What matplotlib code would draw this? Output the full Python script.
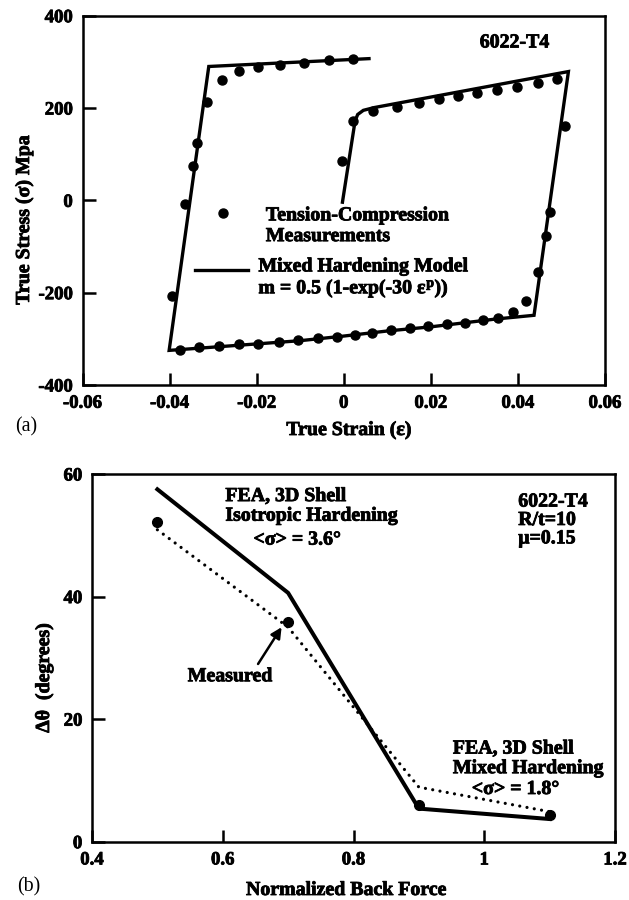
import matplotlib
matplotlib.use("Agg")
import matplotlib.pyplot as plt
import matplotlib.patheffects as pe
from matplotlib.text import Text

plt.rcParams['font.family'] = ['Liberation Serif', 'DejaVu Serif']
plt.rcParams['font.weight'] = 'bold'
plt.rcParams['axes.unicode_minus'] = False
plt.rcParams['mathtext.fontset'] = 'custom'
plt.rcParams['mathtext.rm'] = 'Liberation Serif:bold'
plt.rcParams['mathtext.it'] = 'Liberation Serif:bold'

# (a) cyclic stress-strain loop, 6022-T4
model_strain = [-0.0003, 0.0026, 0.0032, 0.0045, 0.0070, 0.0516, 0.0437, 0.035, 0.020,
                0.010, 0.0, -0.010, -0.020, -0.030, -0.0401, -0.0310, 0.0058]
model_stress = [-4, 172, 186, 195, 201, 279, -249, -257, -274,
                -283, -294, -304, -311, -318, -325, 290, 307]

meas_strain = [-0.0003, 0.0021, 0.0068, 0.0123, 0.0173, 0.0219, 0.0263, 0.0305, 0.0353,
               0.0397, 0.0445, 0.0490, 0.0508, 0.0474, 0.0465, 0.0447, 0.0419, 0.0388,
               0.0355, 0.0320, 0.0278, 0.0238, 0.0193, 0.0152, 0.0109, 0.0064, 0.0026,
               -0.0016, -0.0058, -0.0104, -0.0148, -0.0196, -0.0241, -0.0286, -0.0332,
               -0.0376, -0.0395, -0.0365, -0.0346, -0.0338, -0.0315, -0.0280, -0.0241,
               -0.0196, -0.0146, -0.0091, -0.0033, 0.0022]
meas_stress = [85, 172, 194, 203, 211, 219, 225, 232, 238,
               245, 254, 263, 161, -25, -78, -155, -218, -241,
               -254, -259, -265, -268, -273, -276, -281, -288, -292,
               -296, -299, -302, -307, -311, -312, -315, -318,
               -324, -208, -8, 74, 125, 212, 261, 280,
               289, 294, 298, 303, 307]

a_xticks = [-0.06, -0.04, -0.02, 0, 0.02, 0.04, 0.06]
a_xticklabels = ['-0.06', '-0.04', '-0.02', '0', '0.02', '0.04', '0.06']
a_yticks = [-400, -200, 0, 200, 400]
a_yticklabels = ['-400', '-200', '0', '200', '400']

# (b) springback angle vs normalized back force
back_force = [0.5, 0.7, 0.9, 1.1]
dtheta_measured = [52.2, 35.8, 6.0, 4.4]
dtheta_isotropic = [57.5, 40.6, 5.4, 3.7]
dtheta_mixed = [50.9, 35.0, 8.9, 4.9]

b_xticks = [0.4, 0.6, 0.8, 1.0, 1.2]
b_xticklabels = ['0.4', '0.6', '0.8', '1', '1.2']
b_yticks = [0, 20, 40, 60]
b_yticklabels = ['0', '20', '40', '60']

W, H = 629, 900
fig = plt.figure(figsize=(W / 100, H / 100), dpi=100)

ax1 = fig.add_axes([82.5 / W, 1 - 385 / H, (605 - 82.5) / W, (385 - 15.7) / H])
ax2 = fig.add_axes([92 / W, 1 - 841.7 / H, (615 - 92) / W, (841.7 - 474) / H])

FS = 13.5   # tick labels
TS = 14.3   # annotations and axis titles

for ax in (ax1, ax2):
    for s in ax.spines.values():
        s.set_linewidth(1.8)
    ax.tick_params(direction='in', length=9, width=1.8, labelsize=FS, pad=7,
                   top=False, right=False)

# ---- panel (a)
ax1.plot(model_strain, model_stress, color='black', lw=2.4, solid_joinstyle='miter')
ax1.plot(meas_strain, meas_stress, 'o', color='black', ms=6.5, mec='black')
ax1.set_xlim(-0.06, 0.06)
ax1.set_ylim(-400, 400)
ax1.set_xticks(a_xticks)
ax1.set_xticklabels(a_xticklabels)
ax1.set_yticks(a_yticks)
ax1.set_yticklabels(a_yticklabels)

ax1.text(0.0392, 342, '6022-T4', fontsize=TS, ha='center', va='center')
ax1.plot([-0.0277], [-27], 'o', color='black', ms=6.5)
ax1.text(-0.0179, -55, 'Tension-Compression\nMeasurements', fontsize=TS,
         ha='left', va='center', linespacing=1.05)
ax1.plot([-0.0342, -0.0219], [-151, -151], color='black', lw=2.4)
ax1.text(-0.0196, -169, 'Mixed Hardening Model\nm = 0.5 (1-exp(-30 $\\varepsilon^{p}$))',
         fontsize=TS, ha='left', va='center', linespacing=1.0)

fig.text(15 / W, 1 - 427 / H, '(a)', fontsize=TS, fontweight='normal', va='center')
fig.text(349 / W, 1 - 430 / H, 'True Strain (ε)', fontsize=TS, ha='center', va='center')
fig.text(24 / W, 1 - 220 / H, 'True Stress (σ) Mpa', fontsize=TS, ha='center',
         va='center', rotation=90)

# ---- panel (b)
ax2.plot(back_force, dtheta_isotropic, color='black', lw=2.9)
ax2.plot(back_force, dtheta_mixed, color='black', lw=2.3, linestyle=(0, (0.01, 2.3)),
         dash_capstyle='round')
ax2.plot(back_force, dtheta_measured, 'o', color='black', ms=7)
ax2.set_xlim(0.4, 1.2)
ax2.set_ylim(0, 60)
ax2.set_xticks(b_xticks)
ax2.set_xticklabels(b_xticklabels)
ax2.set_yticks(b_yticks)
ax2.set_yticklabels(b_yticklabels)

ax2.text(0.604, 56.4, 'FEA, 3D Shell', fontsize=TS, ha='left', va='center')
ax2.text(0.604, 53.2, 'Isotropic Hardening', fontsize=TS, ha='left', va='center')
ax2.text(0.647, 49.3, '<σ> = 3.6°', fontsize=TS, ha='left', va='center')

ax2.text(1.052, 55.5, '6022-T4', fontsize=TS, ha='left', va='center')
ax2.text(1.052, 52.5, 'R/t=10', fontsize=TS, ha='left', va='center')
ax2.text(1.052, 49.5, 'μ=0.15', fontsize=TS, ha='left', va='center')

ax2.text(0.952, 15.2, 'FEA, 3D Shell', fontsize=TS, ha='left', va='center')
ax2.text(0.952, 12.0, 'Mixed Hardening', fontsize=TS, ha='left', va='center')
ax2.text(0.981, 8.6, '<σ> = 1.8°', fontsize=TS, ha='left', va='center')

ax2.text(0.611, 27.0, 'Measured', fontsize=TS, ha='center', va='center')
ax2.annotate('', xy=(0.690, 35.0), xytext=(0.654, 29.0),
             arrowprops=dict(arrowstyle='-|>', color='black', lw=1.8,
                             mutation_scale=16, shrinkA=0, shrinkB=0))

fig.text(17 / W, 1 - 887 / H, '(b)', fontsize=TS, fontweight='normal', va='center')
fig.text(346 / W, 1 - 890 / H, 'Normalized Back Force', fontsize=TS,
         ha='center', va='center')
fig.text(44 / W, 1 - 678 / H, 'Δθ  (degrees)', fontsize=TS, ha='center',
         va='center', rotation=90)

# heavier glyphs for the bold lettering
for t in fig.findobj(Text):
    if t.get_fontweight() == 'bold':
        t.set_path_effects([pe.withStroke(linewidth=0.6, foreground='black')])

fig.savefig('out.png', dpi=100)
